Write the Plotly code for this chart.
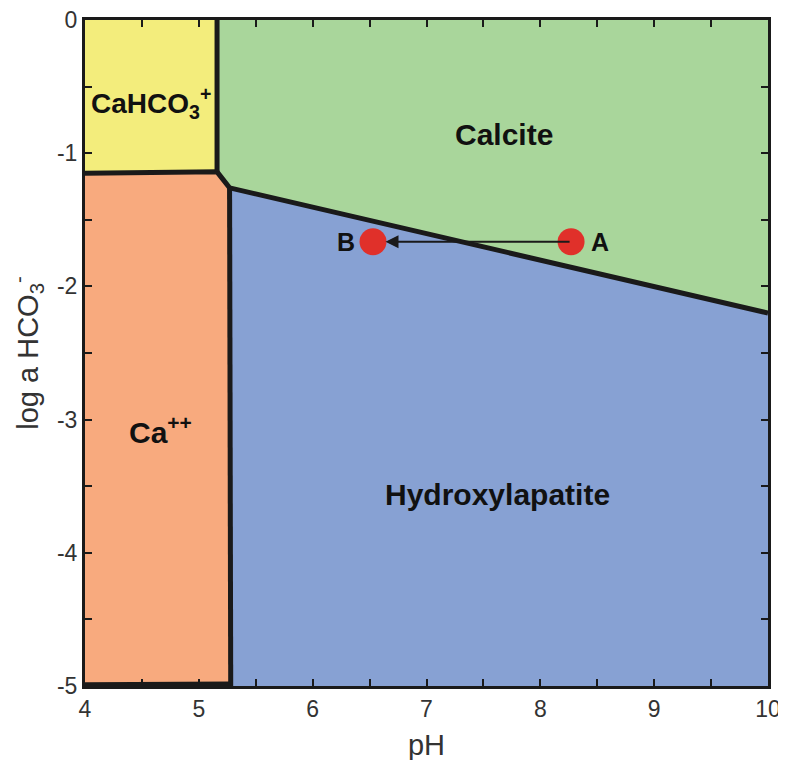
import plotly.graph_objects as go

# ---- data ----
# region polygons (pH, log a HCO3-)
cahco3_ph = [4.0, 5.16, 5.16, 4.0]
cahco3_log = [0.0, 0.0, -1.14, -1.15]
calcite_ph = [5.16, 10.0, 10.0, 5.27, 5.16]
calcite_log = [0.0, 0.0, -2.20, -1.26, -1.14]
ca_ph = [4.0, 5.16, 5.27, 5.28, 4.0]
ca_log = [-1.15, -1.14, -1.26, -5.0, -5.0]
hap_ph = [5.27, 10.0, 10.0, 5.28]
hap_log = [-1.26, -2.20, -5.0, -5.0]

# boundary lines
bound_ph = [4.0, 5.16, 5.27, 10.0]
bound_log = [-1.15, -1.14, -1.26, -2.20]
vert1_ph = [5.16, 5.16]
vert1_log = [0.0, -1.14]
vert2_ph = [5.27, 5.28]
vert2_log = [-1.26, -5.0]
bottom_ph = [4.0, 5.28]
bottom_log = [-4.99, -4.985]

# points
pt_names = ["A", "B"]
pt_ph = [8.27, 6.53]
pt_log = [-1.665, -1.665]

region_labels = ["CaHCO<sub>3</sub><sup>+</sup>", "Calcite", "Ca<sup>++</sup>", "Hydroxylapatite"]
region_ph = [4.58, 7.68, 4.66, 7.62]
region_log = [-0.62, -0.86, -3.08, -3.56]
region_size = [28, 30, 30, 30]

x_ticks = [4, 5, 6, 7, 8, 9, 10]
y_ticks = [0, -1, -2, -3, -4, -5]

colors = {"cahco3": "#F3ED7C", "calcite": "#A9D69B", "ca": "#F8AA7E", "hap": "#87A1D3"}

fig = go.Figure()
for px, py, c in [(cahco3_ph, cahco3_log, colors["cahco3"]),
                  (calcite_ph, calcite_log, colors["calcite"]),
                  (ca_ph, ca_log, colors["ca"]),
                  (hap_ph, hap_log, colors["hap"])]:
    fig.add_trace(go.Scatter(x=px, y=py, fill="toself", fillcolor=c, mode="none",
                             hoverinfo="skip", showlegend=False))

for lx, ly in [(bound_ph, bound_log), (vert1_ph, vert1_log), (vert2_ph, vert2_log),
               (bottom_ph, bottom_log)]:
    fig.add_trace(go.Scatter(x=lx, y=ly, mode="lines", line=dict(color="#1a1a1a", width=5),
                             hoverinfo="skip", showlegend=False))

# arrow A -> B
fig.add_annotation(x=pt_ph[1] + 0.11, y=pt_log[1], ax=pt_ph[0], ay=pt_log[0],
                   xref="x", yref="y", axref="x", ayref="y", text="",
                   showarrow=True, arrowhead=2, arrowsize=1.3, arrowwidth=2, arrowcolor="#1a1a1a")

fig.add_trace(go.Scatter(x=pt_ph, y=pt_log, mode="markers",
                         marker=dict(color="#E0302A", size=27), showlegend=False, hoverinfo="skip"))

# point labels
fig.add_annotation(x=pt_ph[0], y=pt_log[0], text="<b>A</b>", showarrow=False, xshift=29,
                   font=dict(size=25, color="#111111"))
fig.add_annotation(x=pt_ph[1], y=pt_log[1], text="<b>B</b>", showarrow=False, xshift=-27,
                   font=dict(size=25, color="#111111"))

for t, x, y, s in zip(region_labels, region_ph, region_log, region_size):
    fig.add_annotation(x=x, y=y, text="<b>" + t + "</b>", showarrow=False,
                       font=dict(size=s, color="#111111"))

axis_common = dict(showgrid=False, zeroline=False, showline=True, linecolor="#1a1a1a",
                   linewidth=3, mirror="ticks", ticks="inside", ticklen=7, tickwidth=2,
                   tickcolor="#1a1a1a", automargin=False, ticklabeloverflow="allow",
                   minor=dict(ticks="inside", ticklen=7, tickwidth=2, tickcolor="#1a1a1a"),
                   tickfont=dict(size=23, color="#333333"))

fig.update_xaxes(range=[4, 10], tickvals=x_ticks, ticktext=[str(v) for v in x_ticks],
                 minor_dtick=0.5, title=dict(text="pH", font=dict(size=29, color="#333333")),
                 **axis_common)
fig.update_yaxes(range=[-5, 0], tickvals=y_ticks, ticktext=[str(v) for v in y_ticks],
                 minor_dtick=0.5,
                 title=dict(text="log a HCO<sub>3</sub><sup>-</sup>",
                            font=dict(size=29, color="#333333")),
                 **axis_common)

# page body adds ~8px offset; margins compensate so the plot sits at 85..768 x 20..686
fig.update_layout(width=786, height=760, margin=dict(l=77, r=26, t=12, b=82),
                  plot_bgcolor="white", paper_bgcolor="white",
                  font=dict(family="Liberation Sans, Arial, sans-serif"))

fig.write_html("out.html")
